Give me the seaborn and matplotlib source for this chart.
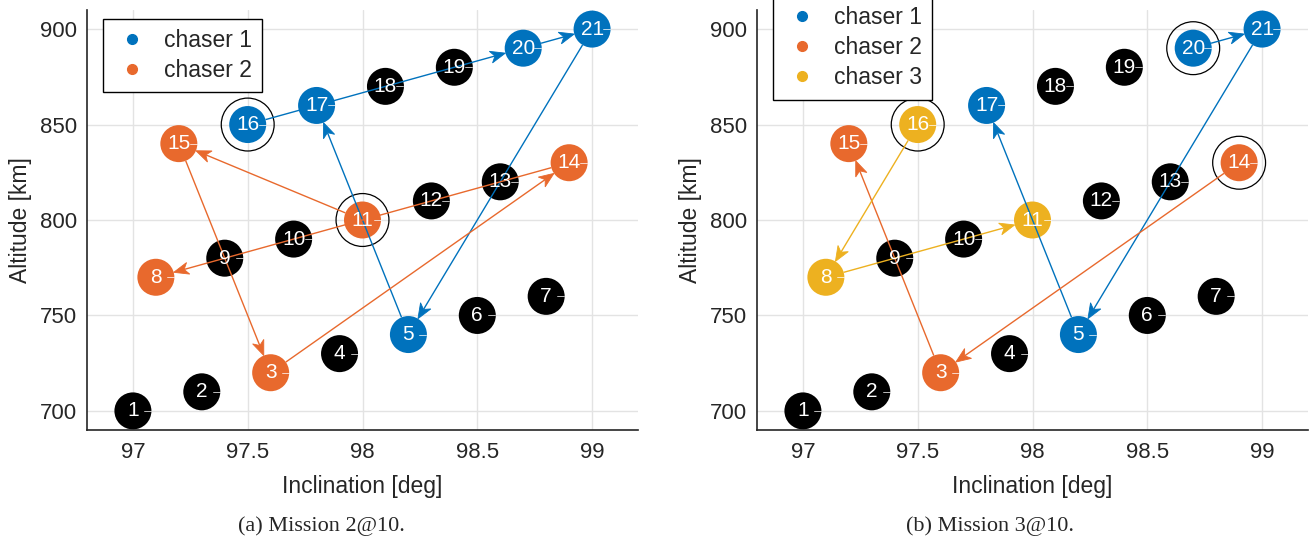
import numpy as np
import pandas as pd
import matplotlib
matplotlib.use('Agg')
import matplotlib.pyplot as plt
import seaborn as sns
from matplotlib.lines import Line2D
from matplotlib.patches import Polygon

# Nodes (targets) : inclination [deg], altitude [km]
node_id = list(range(1, 22))
inclination = [97.0, 97.3, 97.6, 97.9, 98.2, 98.5, 98.8,
               97.1, 97.4, 97.7, 98.0, 98.3, 98.6, 98.9,
               97.2, 97.5, 97.8, 98.1, 98.4, 98.7, 99.0]
altitude = [700, 710, 720, 730, 740, 750, 760,
            770, 780, 790, 800, 810, 820, 830,
            840, 850, 860, 870, 880, 890, 900]

# Routes of each chaser (first node = start, circled)
mission2_routes = {
    'chaser 1': [16, 20, 21, 5, 17],
    'chaser 2': [11, 15, 3, 14, 8],
}
mission3_routes = {
    'chaser 1': [20, 21, 5, 17],
    'chaser 2': [14, 3, 15],
    'chaser 3': [16, 8, 11],
}
captions = ['(a) Mission 2@10.', '(b) Mission 3@10.']

colores = {'chaser 1': '#0072BD', 'chaser 2': '#E8692D', 'chaser 3': '#EDB120', 'none': 'black'}

sns.set_theme(style='whitegrid')
plt.rcParams['font.family'] = ['Liberation Sans', 'DejaVu Sans']
plt.rcParams['axes.edgecolor'] = '#262626'

nodos = pd.DataFrame({'id': node_id, 'inc': inclination, 'alt': altitude})

fig = plt.figure(figsize=(13.13, 5.42), dpi=100)
ax1 = fig.add_axes([87 / 1313, 112 / 542, 551 / 1313, 420 / 542])
ax2 = fig.add_axes([757 / 1313, 112 / 542, 551 / 1313, 420 / 542])

R = 18.5  # node radius in pixels
L, W = 15.0, 12.0  # arrowhead length / width in pixels


def flecha(ax, pa, pb, color):
    # arrow in pixel space, converted back to data coords
    to_px = ax.transData.transform
    to_data = ax.transData.inverted().transform
    a = to_px(pa)
    b = to_px(pb)
    u = (b - a) / np.hypot(*(b - a))
    n = np.array([-u[1], u[0]])
    ini = a + R * u
    tip = b - R * u
    notch = tip - 0.72 * L * u
    head = [tip, tip - L * u + W / 2 * n, notch, tip - L * u - W / 2 * n]
    linea = to_data([ini, notch])
    ax.plot(linea[:, 0], linea[:, 1], color=color, lw=1.0, zorder=3, solid_capstyle='butt')
    ax.add_patch(Polygon(to_data(head), closed=True, facecolor=color,
                         edgecolor=color, lw=0.6, zorder=3))


def dibujar(ax, rutas, legend_y):
    ax.set_xlim(96.8, 99.2)
    ax.set_ylim(690, 910)
    df = nodos.copy()
    df['quien'] = 'none'
    for chaser, ruta in rutas.items():
        df.loc[df['id'].isin(ruta), 'quien'] = chaser
    sns.scatterplot(data=df, x='inc', y='alt', hue='quien', palette=colores,
                    s=710, edgecolor='none', legend=False, ax=ax, zorder=2)
    # start rings
    inicio = df[df['id'].isin([r[0] for r in rutas.values()])]
    ax.scatter(inicio['inc'], inicio['alt'], s=1450, facecolors='none',
               edgecolors='black', linewidths=0.9, zorder=2)
    ax.set_xlim(96.8, 99.2)
    ax.set_ylim(690, 910)
    # arrows between consecutive nodes
    for chaser, ruta in rutas.items():
        for a, b in zip(ruta[:-1], ruta[1:]):
            pa = (inclination[a - 1], altitude[a - 1])
            pb = (inclination[b - 1], altitude[b - 1])
            flecha(ax, pa, pb, colores[chaser])
    to_px = ax.transData.transform
    to_data = ax.transData.inverted().transform
    for _, r in df.iterrows():
        ax.text(r['inc'], r['alt'], str(r['id']), color='white', fontsize=15,
                ha='center', va='center', zorder=4)
        c = to_px((r['inc'], r['alt']))
        d = to_data([c + [11, 0], c + [18, 0]])
        ax.plot(d[:, 0], d[:, 1], color='white', lw=0.6, alpha=0.85, zorder=4)

    ax.set_xticks([97, 97.5, 98, 98.5, 99])
    ax.set_xticklabels(['97', '97.5', '98', '98.5', '99'])
    ax.set_yticks([700, 750, 800, 850, 900])
    ax.grid(True, color='#e3e3e3', lw=1)
    for s in ['top', 'right']:
        ax.spines[s].set_visible(False)
    for s in ['left', 'bottom']:
        ax.spines[s].set_linewidth(1.2)
    ax.tick_params(axis='both', direction='in', length=4, width=1, colors='#262626',
                   labelsize=16, labelcolor='#262626')
    ax.tick_params(axis='x', pad=9)
    ax.tick_params(axis='y', pad=7)
    ax.set_xlabel('Inclination [deg]', fontsize=16.5, color='#262626', labelpad=8)
    ax.set_ylabel('Altitude [km]', fontsize=16.5, color='#262626', labelpad=6)
    ax.set_facecolor('white')

    handles = [Line2D([], [], ls='none', marker='o', ms=7, color=colores[c]) for c in rutas]
    leg = ax.legend(handles, list(rutas.keys()), loc='upper left',
                    bbox_to_anchor=(0.029, legend_y), fontsize=16.5, frameon=True,
                    fancybox=False, edgecolor='black', framealpha=1,
                    borderpad=0.45, labelspacing=0.3, handlelength=1.6,
                    handletextpad=0.6, borderaxespad=0)
    leg.get_frame().set_linewidth(1.0)
    leg.set_zorder(5)


dibujar(ax1, mission2_routes, 0.979)
dibujar(ax2, mission3_routes, 1.033)

fig.text(321 / 1313, 1 - 526 / 542, captions[0], ha='center', va='center',
         fontsize=16, family=['Liberation Serif', 'DejaVu Serif'])
fig.text(990 / 1313, 1 - 526 / 542, captions[1], ha='center', va='center',
         fontsize=16, family=['Liberation Serif', 'DejaVu Serif'])

fig.savefig('out.png', dpi=100, facecolor='white')
